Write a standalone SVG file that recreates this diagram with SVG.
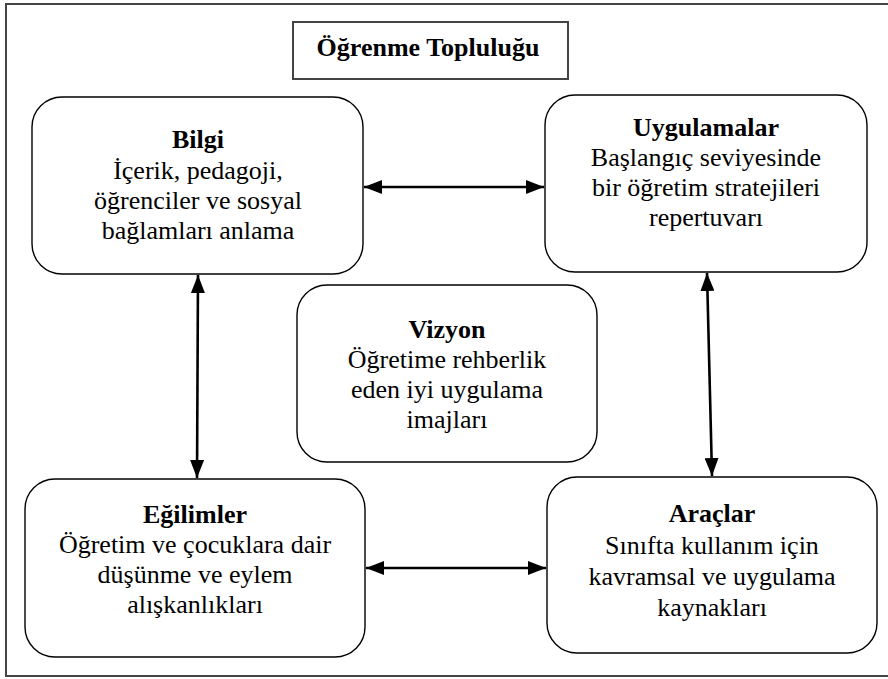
<svg xmlns="http://www.w3.org/2000/svg" width="888" height="679" viewBox="0 0 888 679" font-family="'Liberation Serif', 'DejaVu Serif', serif">
<defs>
<style>
.frame{fill:none;stroke:#444;stroke-width:2}
.box{fill:#fff;stroke:#000;stroke-width:1.4}
text{font-family:'Liberation Serif','DejaVu Serif',serif;font-size:26px;fill:#000;text-anchor:middle}
.b{font-weight:bold}
.c{stroke:#000;stroke-width:2.6;fill:none;marker-start:url(#ah);marker-end:url(#ah)}
</style>
<marker id="ah" viewBox="0 0 18 14" refX="18" refY="7" markerWidth="18" markerHeight="14" markerUnits="userSpaceOnUse" orient="auto-start-reverse">
<path d="M0,0 L18,7 L0,14 Z" fill="#000"/>
</marker>
</defs>
<rect width="888" height="679" fill="#fff"/>
<rect class="frame" x="6" y="4" width="892" height="672"/>
<g id="title">
<rect class="frame" x="293" y="22" width="275" height="57"/>
<text class="b" x="428" y="56">Öğrenme Topluluğu</text>
</g>
<g id="bilgi">
<rect class="box" x="32" y="97" width="331" height="177" rx="30"/>
<text class="b" x="198" y="148">Bilgi</text>
<text x="198" y="179">İçerik, pedagoji,</text>
<text x="198" y="209">öğrenciler ve sosyal</text>
<text x="198" y="239">bağlamları anlama</text>
</g>
<g id="uygulamalar">
<rect class="box" x="545" y="95" width="322" height="177" rx="30"/>
<text class="b" x="706" y="136">Uygulamalar</text>
<text x="706" y="166">Başlangıç seviyesinde</text>
<text x="706" y="196">bir öğretim stratejileri</text>
<text x="706" y="226">repertuvarı</text>
</g>
<g id="vizyon">
<rect class="box" x="297" y="285" width="300" height="177" rx="30"/>
<text class="b" x="447" y="338">Vizyon</text>
<text x="447" y="368">Öğretime rehberlik</text>
<text x="447" y="398">eden iyi uygulama</text>
<text x="447" y="428">imajları</text>
</g>
<g id="egilimler">
<rect class="box" x="25" y="479" width="340" height="178" rx="30"/>
<text class="b" x="195" y="523">Eğilimler</text>
<text x="195" y="553">Öğretim ve çocuklara dair</text>
<text x="195" y="583">düşünme ve eylem</text>
<text x="195" y="613">alışkanlıkları</text>
</g>
<g id="araclar">
<rect class="box" x="547" y="477" width="330" height="176" rx="30"/>
<text class="b" x="712" y="522">Araçlar</text>
<text x="712" y="554">Sınıfta kullanım için</text>
<text x="712" y="585">kavramsal ve uygulama</text>
<text x="712" y="616">kaynakları</text>
</g>
<g id="connectors">
<line class="c" x1="364" y1="187" x2="544" y2="187"/>
<line class="c" x1="366" y1="568" x2="546" y2="568"/>
<line class="c" x1="198" y1="275" x2="197" y2="478"/>
<line class="c" x1="707" y1="273" x2="712" y2="476"/>
</g>
</svg>
